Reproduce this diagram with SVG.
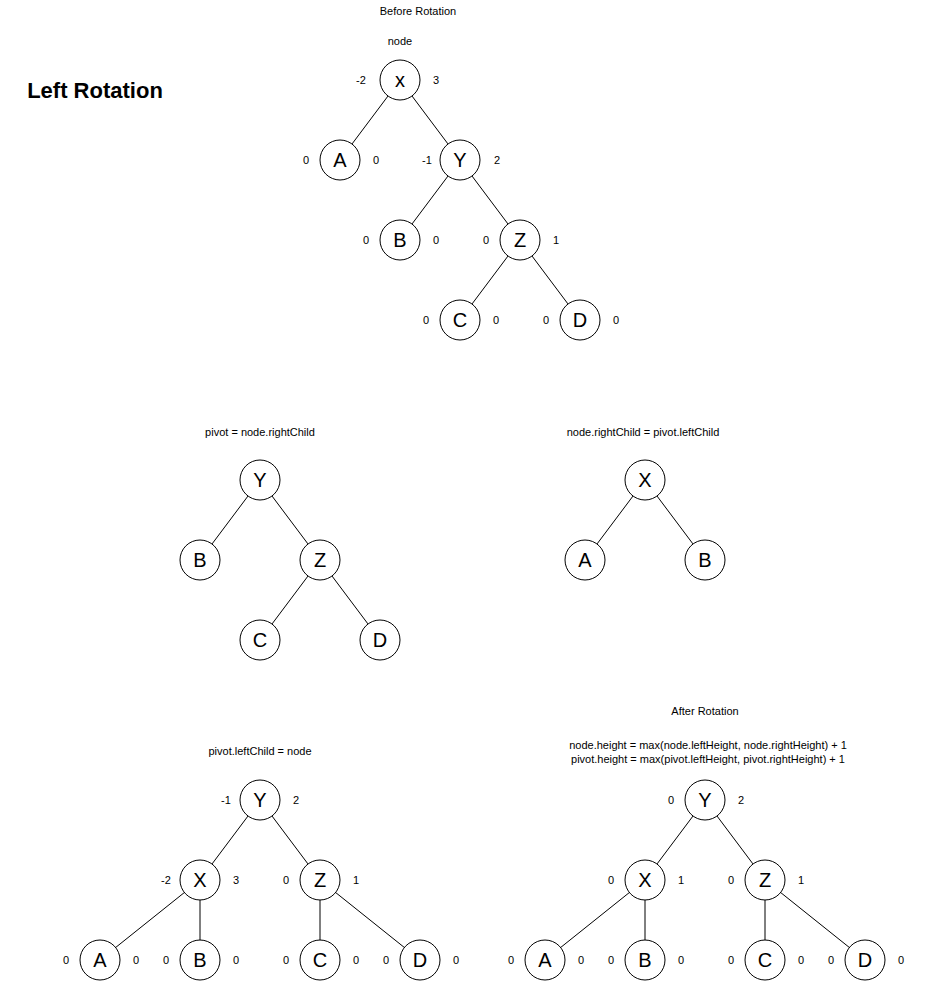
<svg xmlns="http://www.w3.org/2000/svg" width="936" height="981" viewBox="0 0 936 981">
<style>
.n circle{fill:#fff;stroke:#000;stroke-width:1}
.n text{font-family:"Liberation Sans",Arial,sans-serif;font-size:20px;text-anchor:middle;dominant-baseline:central}
.l{font-family:"Liberation Sans",Arial,sans-serif;font-size:11px;text-anchor:middle;dominant-baseline:central}
#edges line{stroke:#000;stroke-width:1}
</style>
<rect width="936" height="981" fill="#fff"/>
<text x="95" y="90" style="font-family:'Liberation Sans',Arial,sans-serif;font-size:22px;font-weight:bold;text-anchor:middle;dominant-baseline:central">Left Rotation</text>
<text class="l" x="418" y="11">Before Rotation</text>
<text class="l" x="400" y="41">node</text>
<text class="l" x="260" y="432">pivot = node.rightChild</text>
<text class="l" x="643" y="432">node.rightChild = pivot.leftChild</text>
<text class="l" x="260" y="751">pivot.leftChild = node</text>
<text class="l" x="705" y="711">After Rotation</text>
<text class="l" x="708" y="745">node.height = max(node.leftHeight, node.rightHeight) + 1</text>
<text class="l" x="708" y="759">pivot.height = max(pivot.leftHeight, pivot.rightHeight) + 1</text>
<g id="edges">
<line x1="400" y1="80" x2="340" y2="160"/><line x1="400" y1="80" x2="460" y2="160"/>
<line x1="460" y1="160" x2="400" y2="240"/><line x1="460" y1="160" x2="520" y2="240"/>
<line x1="520" y1="240" x2="460" y2="320"/><line x1="520" y1="240" x2="580" y2="320"/>
<line x1="260" y1="480" x2="200" y2="560"/><line x1="260" y1="480" x2="320" y2="560"/>
<line x1="320" y1="560" x2="260" y2="640"/><line x1="320" y1="560" x2="380" y2="640"/>
<line x1="645" y1="480" x2="585" y2="560"/><line x1="645" y1="480" x2="705" y2="560"/>
<line x1="260" y1="800" x2="200" y2="880"/><line x1="260" y1="800" x2="320" y2="880"/>
<line x1="200" y1="880" x2="100" y2="960"/><line x1="200" y1="880" x2="200" y2="960"/>
<line x1="320" y1="880" x2="320" y2="960"/><line x1="320" y1="880" x2="420" y2="960"/>
<line x1="705" y1="800" x2="645" y2="880"/><line x1="705" y1="800" x2="765" y2="880"/>
<line x1="645" y1="880" x2="545" y2="960"/><line x1="645" y1="880" x2="645" y2="960"/>
<line x1="765" y1="880" x2="765" y2="960"/><line x1="765" y1="880" x2="865" y2="960"/>
</g>
<g id="t1x" class="n"><circle cx="400" cy="80" r="20"/><text x="400" y="80">x</text></g>
<g id="t1a" class="n"><circle cx="340" cy="160" r="20"/><text x="340" y="160">A</text></g>
<g id="t1y" class="n"><circle cx="460" cy="160" r="20"/><text x="460" y="160">Y</text></g>
<g id="t1b" class="n"><circle cx="400" cy="240" r="20"/><text x="400" y="240">B</text></g>
<g id="t1z" class="n"><circle cx="520" cy="240" r="20"/><text x="520" y="240">Z</text></g>
<g id="t1c" class="n"><circle cx="460" cy="320" r="20"/><text x="460" y="320">C</text></g>
<g id="t1d" class="n"><circle cx="580" cy="320" r="20"/><text x="580" y="320">D</text></g>
<g id="t2y" class="n"><circle cx="260" cy="480" r="20"/><text x="260" y="480">Y</text></g>
<g id="t2b" class="n"><circle cx="200" cy="560" r="20"/><text x="200" y="560">B</text></g>
<g id="t2z" class="n"><circle cx="320" cy="560" r="20"/><text x="320" y="560">Z</text></g>
<g id="t2c" class="n"><circle cx="260" cy="640" r="20"/><text x="260" y="640">C</text></g>
<g id="t2d" class="n"><circle cx="380" cy="640" r="20"/><text x="380" y="640">D</text></g>
<g id="t3x" class="n"><circle cx="645" cy="480" r="20"/><text x="645" y="480">X</text></g>
<g id="t3a" class="n"><circle cx="585" cy="560" r="20"/><text x="585" y="560">A</text></g>
<g id="t3b" class="n"><circle cx="705" cy="560" r="20"/><text x="705" y="560">B</text></g>
<g id="t4y" class="n"><circle cx="260" cy="800" r="20"/><text x="260" y="800">Y</text></g>
<g id="t4x" class="n"><circle cx="200" cy="880" r="20"/><text x="200" y="880">X</text></g>
<g id="t4z" class="n"><circle cx="320" cy="880" r="20"/><text x="320" y="880">Z</text></g>
<g id="t4a" class="n"><circle cx="100" cy="960" r="20"/><text x="100" y="960">A</text></g>
<g id="t4b" class="n"><circle cx="200" cy="960" r="20"/><text x="200" y="960">B</text></g>
<g id="t4c" class="n"><circle cx="320" cy="960" r="20"/><text x="320" y="960">C</text></g>
<g id="t4d" class="n"><circle cx="420" cy="960" r="20"/><text x="420" y="960">D</text></g>
<g id="t5y" class="n"><circle cx="705" cy="800" r="20"/><text x="705" y="800">Y</text></g>
<g id="t5x" class="n"><circle cx="645" cy="880" r="20"/><text x="645" y="880">X</text></g>
<g id="t5z" class="n"><circle cx="765" cy="880" r="20"/><text x="765" y="880">Z</text></g>
<g id="t5a" class="n"><circle cx="545" cy="960" r="20"/><text x="545" y="960">A</text></g>
<g id="t5b" class="n"><circle cx="645" cy="960" r="20"/><text x="645" y="960">B</text></g>
<g id="t5c" class="n"><circle cx="765" cy="960" r="20"/><text x="765" y="960">C</text></g>
<g id="t5d" class="n"><circle cx="865" cy="960" r="20"/><text x="865" y="960">D</text></g>
<g id="balances">
<text class="l" x="361" y="80">-2</text><text class="l" x="436" y="80">3</text>
<text class="l" x="306" y="160">0</text><text class="l" x="376" y="160">0</text>
<text class="l" x="427" y="160">-1</text><text class="l" x="497" y="160">2</text>
<text class="l" x="366" y="240">0</text><text class="l" x="436" y="240">0</text>
<text class="l" x="486" y="240">0</text><text class="l" x="556" y="240">1</text>
<text class="l" x="426" y="320">0</text><text class="l" x="496" y="320">0</text>
<text class="l" x="546" y="320">0</text><text class="l" x="616" y="320">0</text>
<text class="l" x="226" y="800">-1</text><text class="l" x="296" y="800">2</text>
<text class="l" x="166" y="880">-2</text><text class="l" x="236" y="880">3</text>
<text class="l" x="286" y="880">0</text><text class="l" x="356" y="880">1</text>
<text class="l" x="66" y="960">0</text><text class="l" x="136" y="960">0</text>
<text class="l" x="166" y="960">0</text><text class="l" x="236" y="960">0</text>
<text class="l" x="286" y="960">0</text><text class="l" x="356" y="960">0</text>
<text class="l" x="386" y="960">0</text><text class="l" x="456" y="960">0</text>
<text class="l" x="671" y="800">0</text><text class="l" x="741" y="800">2</text>
<text class="l" x="611" y="880">0</text><text class="l" x="681" y="880">1</text>
<text class="l" x="731" y="880">0</text><text class="l" x="801" y="880">1</text>
<text class="l" x="511" y="960">0</text><text class="l" x="581" y="960">0</text>
<text class="l" x="611" y="960">0</text><text class="l" x="681" y="960">0</text>
<text class="l" x="731" y="960">0</text><text class="l" x="801" y="960">0</text>
<text class="l" x="831" y="960">0</text><text class="l" x="901" y="960">0</text>
</g>
</svg>
